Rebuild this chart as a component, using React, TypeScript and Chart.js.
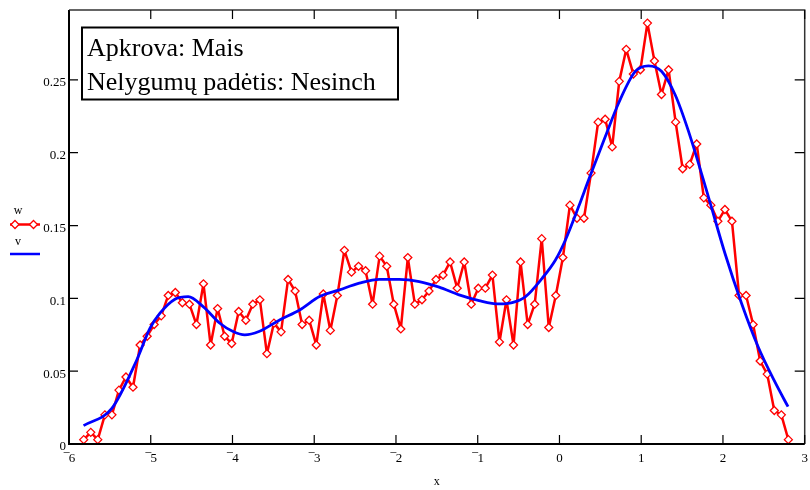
import React, { useEffect, useRef } from "react";
import { Chart, registerables } from "chart.js";

Chart.register(...registerables);

const xTickValues = [-6, -5, -4, -3, -2, -1, 0, 1, 2, 3];
const xTickLabels = ["\u22126", "\u22125", "\u22124", "\u22123", "\u22122", "\u22121", "0", "1", "2", "3"];
const yTickValues = [0, 0.05, 0.1, 0.15, 0.2, 0.25];
const yTickLabels = ["0", "0.05", "0.1", "0.15", "0.2", "0.25"];
const xAxisTitle = "x";
const seriesNames = ["w", "v"];
const boxLines = ["Apkrova: Mais", "Nelygumų padėtis: Nesinch"];

const wX = [
  -5.82, -5.734, -5.648, -5.561, -5.475, -5.389, -5.303, -5.217, -5.13, -5.044,
  -4.958, -4.872, -4.786, -4.699, -4.613, -4.527, -4.441, -4.355, -4.268, -4.182,
  -4.096, -4.01, -3.924, -3.837, -3.751, -3.665, -3.579, -3.493, -3.406, -3.32,
  -3.234, -3.148, -3.062, -2.975, -2.889, -2.803, -2.717, -2.631, -2.544, -2.458,
  -2.372, -2.286, -2.2, -2.113, -2.027, -1.941, -1.855, -1.769, -1.682, -1.596,
  -1.51, -1.424, -1.338, -1.251, -1.165, -1.079, -0.993, -0.907, -0.82, -0.734,
  -0.648, -0.562, -0.476, -0.389, -0.303, -0.217, -0.131, -0.045, 0.042, 0.128,
  0.214, 0.3, 0.386, 0.473, 0.559, 0.645, 0.731, 0.817, 0.904, 0.99,
  1.076, 1.162, 1.248, 1.335, 1.421, 1.507, 1.593, 1.679, 1.766, 1.852,
  1.938, 2.024, 2.11, 2.197, 2.283, 2.369, 2.455, 2.541, 2.628, 2.714,
  2.8,
];
const wY = [
  0.003, 0.008, 0.003, 0.02, 0.02, 0.037, 0.046, 0.039, 0.068, 0.074,
  0.082, 0.088, 0.102, 0.104, 0.097, 0.096, 0.082, 0.11, 0.068, 0.093,
  0.074, 0.069, 0.091, 0.085, 0.096, 0.099, 0.062, 0.083, 0.077, 0.113,
  0.105, 0.082, 0.085, 0.068, 0.103, 0.078, 0.102, 0.133, 0.118, 0.122,
  0.119, 0.096, 0.129, 0.122, 0.096, 0.079, 0.128, 0.096, 0.099, 0.105,
  0.113, 0.116, 0.125, 0.107, 0.125, 0.096, 0.107, 0.107, 0.116, 0.07,
  0.099, 0.068, 0.125, 0.082, 0.096, 0.141, 0.08, 0.102, 0.128, 0.164,
  0.155, 0.155, 0.186, 0.221, 0.223, 0.204, 0.249, 0.271, 0.254, 0.257,
  0.289, 0.263, 0.24, 0.257, 0.221, 0.189, 0.192, 0.206, 0.169, 0.164,
  0.153, 0.161, 0.153, 0.102, 0.102, 0.082, 0.057, 0.048, 0.023, 0.02,
  0.003,
];

const vX = [
  -5.822, -5.476, -5.171, -5.009, -4.887, -4.704, -4.541, -4.359, -4.155, -3.993,
  -3.85, -3.676, -3.423, -3.179, -2.935, -2.691, -2.448, -2.204, -1.96, -1.716,
  -1.472, -1.228, -0.984, -0.74, -0.578, -0.415, -0.212, -0.049, 0.073, 0.235,
  0.357, 0.561, 0.723, 0.927, 1.089, 1.251, 1.415, 1.577, 1.821, 2.024,
  2.227, 2.43, 2.634, 2.796,
];
const vY = [
  0.0126, 0.0245, 0.0577, 0.0795, 0.0898, 0.0994, 0.1012, 0.0943, 0.0829, 0.0772,
  0.0749, 0.0772, 0.0852, 0.092, 0.1012, 0.1058, 0.1104, 0.1131, 0.1131, 0.1115,
  0.1077, 0.1024, 0.0985, 0.0962, 0.0971, 0.1012, 0.1138, 0.1264, 0.1401, 0.163,
  0.1814, 0.2111, 0.234, 0.2558, 0.2597, 0.2558, 0.2398, 0.215, 0.1699, 0.131,
  0.0967, 0.0668, 0.0428, 0.0256,
];

const SERIF = '"Liberation Serif", "Times New Roman", serif';

function diamond(ctx: CanvasRenderingContext2D, x: number, y: number, r: number) {
  ctx.beginPath();
  ctx.moveTo(x, y - r);
  ctx.lineTo(x + r, y);
  ctx.lineTo(x, y + r);
  ctx.lineTo(x - r, y);
  ctx.closePath();
  ctx.fillStyle = "#ffffff";
  ctx.fill();
  ctx.stroke();
}

const decorPlugin = {
  id: "decor",
  afterDraw(chart: any) {
    const ctx: CanvasRenderingContext2D = chart.ctx;
    const xs = chart.scales.x;
    const ys = chart.scales.y;
    const { left, right, top, bottom } = chart.chartArea;
    ctx.save();

    // frame
    ctx.strokeStyle = "#000000";
    ctx.lineWidth = 2;
    ctx.beginPath();
    ctx.moveTo(left, top);
    ctx.lineTo(left, bottom);
    ctx.lineTo(right, bottom);
    ctx.stroke();
    ctx.strokeStyle = "#333333";
    ctx.lineWidth = 1.5;
    ctx.beginPath();
    ctx.moveTo(left, top);
    ctx.lineTo(right, top);
    ctx.lineTo(right, bottom);
    ctx.stroke();

    // x ticks
    ctx.strokeStyle = "#000000";
    ctx.lineWidth = 1.2;
    ctx.fillStyle = "#000000";
    ctx.font = `13px ${SERIF}`;
    ctx.textBaseline = "middle";
    xTickValues.forEach((v, i) => {
      const px = xs.getPixelForValue(v);
      ctx.beginPath();
      ctx.moveTo(px, bottom);
      ctx.lineTo(px, bottom - 9);
      ctx.moveTo(px, top);
      ctx.lineTo(px, top + 9);
      ctx.stroke();
      const lab = xTickLabels[i];
      const ly = bottom + 15;
      if (lab.startsWith("\u2212")) {
        const sign = "\u2212";
        const rest = lab.slice(1);
        const ws = ctx.measureText(sign).width * 0.85;
        const wr = ctx.measureText(rest).width;
        const x0 = px - (ws + wr) / 2;
        ctx.textAlign = "left";
        ctx.fillText(sign, x0, ly - 5);
        ctx.fillText(rest, x0 + ws, ly);
      } else {
        ctx.textAlign = "center";
        ctx.fillText(lab, px, ly);
      }
    });

    // y ticks
    ctx.textAlign = "right";
    yTickValues.forEach((v, i) => {
      const py = ys.getPixelForValue(v);
      ctx.beginPath();
      ctx.moveTo(left, py);
      ctx.lineTo(left + 9, py);
      ctx.moveTo(right, py);
      ctx.lineTo(right - 10, py);
      ctx.stroke();
      ctx.fillText(yTickLabels[i], left - 3, py + 3);
    });

    // axis title
    ctx.textAlign = "center";
    ctx.font = `12px ${SERIF}`;
    ctx.fillText(xAxisTitle, (left + right) / 2, bottom + 38);

    // legend
    ctx.font = `12px ${SERIF}`;
    ctx.fillText(seriesNames[0], 18, 211);
    ctx.strokeStyle = "#ff0000";
    ctx.lineWidth = 2.5;
    ctx.beginPath();
    ctx.moveTo(10, 224.5);
    ctx.lineTo(40, 224.5);
    ctx.stroke();
    ctx.lineWidth = 1.3;
    diamond(ctx, 15, 224.5, 4);
    diamond(ctx, 33.5, 224.5, 4);
    ctx.fillStyle = "#000000";
    ctx.fillText(seriesNames[1], 18, 242);
    ctx.strokeStyle = "#0000ff";
    ctx.lineWidth = 2.5;
    ctx.beginPath();
    ctx.moveTo(10, 254);
    ctx.lineTo(40, 254);
    ctx.stroke();

    // annotation box
    ctx.fillStyle = "#ffffff";
    ctx.fillRect(82, 27.5, 316, 72);
    ctx.strokeStyle = "#000000";
    ctx.lineWidth = 2;
    ctx.strokeRect(82, 27.5, 316, 72);
    ctx.fillStyle = "#000000";
    ctx.font = `26px ${SERIF}`;
    ctx.textAlign = "left";
    ctx.textBaseline = "alphabetic";
    ctx.fillText(boxLines[0], 87, 55.5);
    ctx.fillText(boxLines[1], 87, 89.5);

    ctx.restore();
  },
};

export default function App() {
  const canvasRef = useRef<HTMLCanvasElement | null>(null);

  useEffect(() => {
    const canvas = canvasRef.current;
    if (!canvas) return;
    const chart = new Chart(canvas, {
      type: "scatter",
      data: {
        datasets: [
          {
            label: seriesNames[1],
            data: vX.map((x, i) => ({ x, y: vY[i] })),
            showLine: true,
            borderColor: "#0000ff",
            borderWidth: 2.8,
            borderJoinStyle: "round",
            pointRadius: 0,
            cubicInterpolationMode: "monotone",
            order: 0,
          } as any,
          {
            label: seriesNames[0],
            data: wX.map((x, i) => ({ x, y: wY[i] })),
            showLine: true,
            borderColor: "#ff0000",
            borderWidth: 2.5,
            borderJoinStyle: "round",
            borderCapStyle: "round",
            tension: 0,
            pointStyle: "rectRot",
            pointRadius: 4,
            pointBorderWidth: 1.3,
            pointBorderColor: "#ff0000",
            pointBackgroundColor: "#ffffff",
            clip: false,
            order: 1,
          } as any,
        ],
      },
      options: {
        animation: false,
        responsive: false,
        maintainAspectRatio: false,
        layout: { padding: { left: 0, right: 4, top: 10, bottom: 0 } },
        plugins: { legend: { display: false }, tooltip: { enabled: false } },
        scales: {
          x: {
            type: "linear",
            min: -6,
            max: 3,
            ticks: { display: false },
            grid: { display: false },
            border: { display: false },
            afterFit: (s: any) => {
              s.height = 46;
            },
          },
          y: {
            type: "linear",
            min: 0,
            max: 0.298,
            ticks: { display: false },
            grid: { display: false },
            border: { display: false },
            afterFit: (s: any) => {
              s.width = 69;
            },
          },
        },
      } as any,
      plugins: [decorPlugin],
    });
    return () => chart.destroy();
  }, []);

  return (
    <div style={{ position: "absolute", left: 0, top: 0, width: 810, height: 490, background: "#fff" }}>
      <canvas ref={canvasRef} width={810} height={490} style={{ display: "block" }} />
    </div>
  );
}
